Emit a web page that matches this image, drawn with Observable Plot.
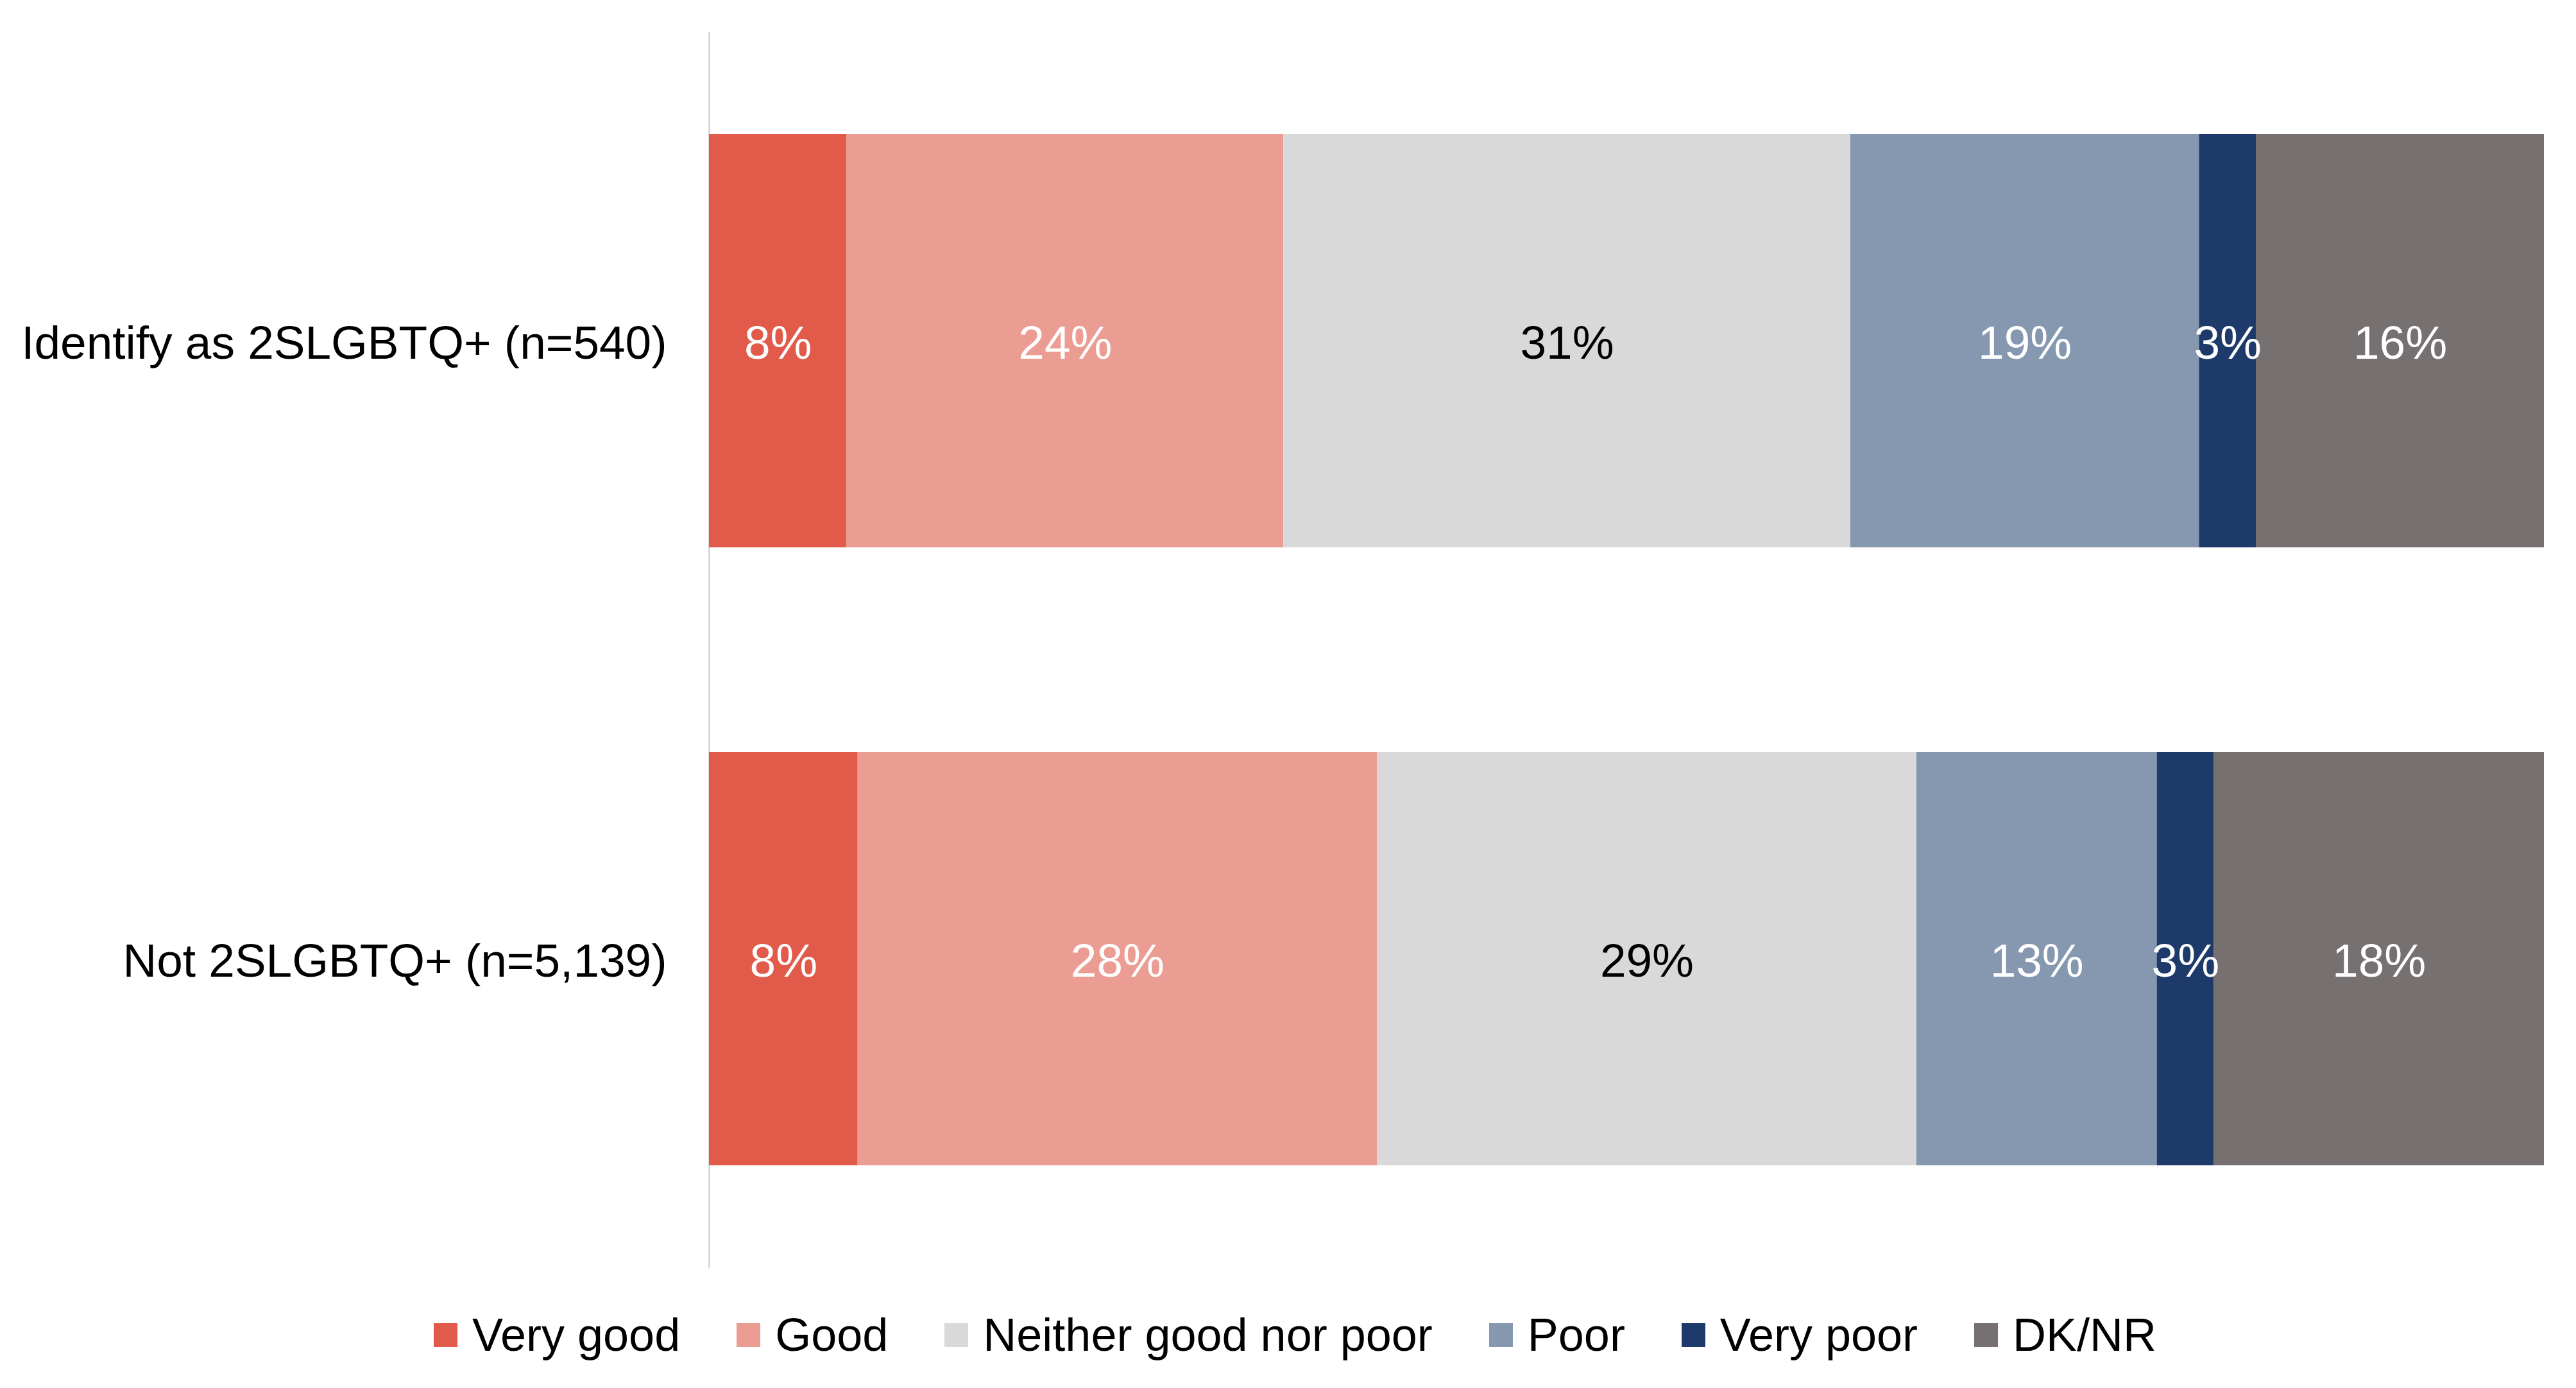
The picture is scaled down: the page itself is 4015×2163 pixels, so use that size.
<!DOCTYPE html>
<html>
<head>
<meta charset="utf-8">
<script src="https://cdn.jsdelivr.net/npm/d3@7"></script>
<script src="https://cdn.jsdelivr.net/npm/@observablehq/plot@0.6"></script>
<style>
  html, body { margin: 0; padding: 0; background: #fff; }
  body { width: 4015px; height: 2163px; overflow: hidden; font-family: "Liberation Sans", Arial, sans-serif; }
  #legend { height: 140px; display: flex; align-items: center; justify-content: center; margin-left: 22px; font-size: 72px; color: #000; }
  .item { display: flex; align-items: center; margin: 0 44px; }
  .sw { width: 37px; height: 37px; margin-right: 23px; }
</style>
</head>
<body>
<div id="chart"></div>
<div id="legend"></div>
<script>
const groups = ["Identify as 2SLGBTQ+ (n=540)", "Not 2SLGBTQ+ (n=5,139)"];
const categories = ["Very good", "Good", "Neither good nor poor", "Poor", "Very poor", "DK/NR"];
const colors = ["#E15A4A", "#EB9C93", "#D9D9D9", "#8697B0", "#1D3A6A", "#767070"];
const identifyValues = [7.5, 23.8, 30.9, 19.0, 3.1, 15.7];
const notValues = [8.1, 28.3, 29.4, 13.1, 3.1, 18.0];

const seriesByGroup = [identifyValues, notValues];
const data = [];
groups.forEach((g, gi) => {
  categories.forEach((c, ci) => {
    data.push({group: g, category: c, value: seriesByGroup[gi][ci]});
  });
});

const darkText = new Set(["Neither good nor poor"]);
const fmt = d => Math.round(d.value) + "%";

const chart = Plot.plot({
  width: 4015,
  height: 2010,
  marginLeft: 1105,
  marginRight: 50,
  marginTop: 50,
  marginBottom: 34,
  style: {fontFamily: "'Liberation Sans', Arial, sans-serif", fontSize: "72px", color: "#000", background: "#fff"},
  x: {domain: [0, 100], axis: null},
  y: {domain: groups, paddingInner: 0.331, paddingOuter: 0.1655, label: null},
  color: {domain: categories, range: colors},
  marks: [
    Plot.ruleX([0], {stroke: "#D9D9D9", strokeWidth: 3}),
    Plot.barX(data, {x: "value", y: "group", fill: "category"}),
    Plot.text(data, Plot.stackX({
      x: "value", y: "group",
      text: d => darkText.has(d.category) ? null : fmt(d),
      fill: "white", fontSize: 73, dy: 4
    })),
    Plot.text(data, Plot.stackX({
      x: "value", y: "group",
      text: d => darkText.has(d.category) ? fmt(d) : null,
      fill: "black", fontSize: 73, dy: 4
    })),
    Plot.axisY({tickSize: 0, tickPadding: 66, fontSize: 73, dy: 4, label: null, fill: "#000"})
  ]
});
document.getElementById("chart").appendChild(chart);

const legend = document.getElementById("legend");
categories.forEach((c, i) => {
  const item = document.createElement("div");
  item.className = "item";
  const sw = document.createElement("div");
  sw.className = "sw";
  sw.style.background = colors[i];
  const t = document.createElement("span");
  t.textContent = c;
  item.appendChild(sw);
  item.appendChild(t);
  legend.appendChild(item);
});
</script>
</body>
</html>
